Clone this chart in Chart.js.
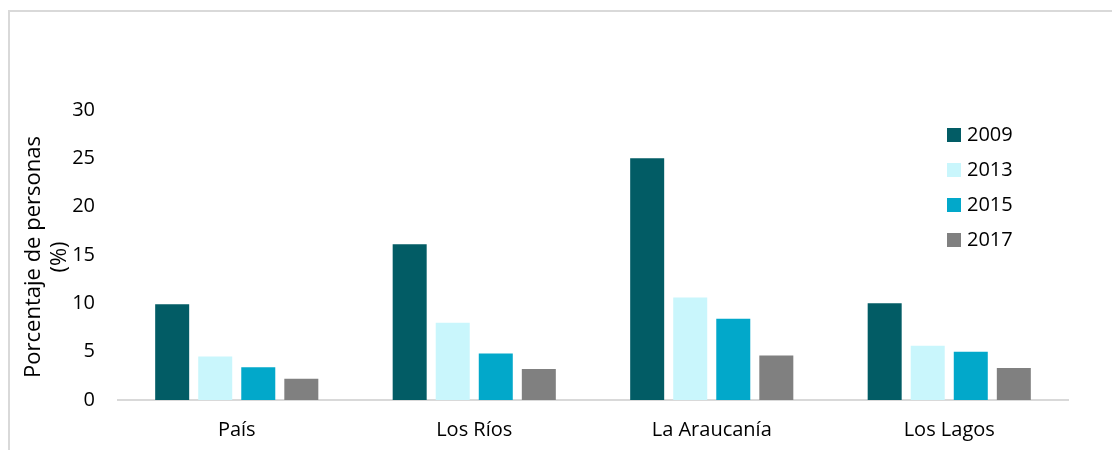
<!DOCTYPE html>
<html>
<head>
<meta charset="utf-8">
<script src="https://cdn.jsdelivr.net/npm/chart.js@4"></script>
<style>
  body { margin: 0; overflow: hidden; background: #fff; }
  #marco { position: absolute; left: 8px; top: 10px; width: 1200px; height: 600px; border: 2px solid #d9d9d9; }
  #grafico { position: absolute; left: 0; top: 0; }
</style>
</head>
<body>
<div id="marco"></div>
<canvas id="grafico" width="1112" height="450"></canvas>
<script>
// Datos del gráfico
const regiones = ['País', 'Los Ríos', 'La Araucanía', 'Los Lagos'];
const anios = ['2009', '2013', '2015', '2017'];
const valores2009 = [9.9, 16.1, 25.0, 10.0];
const valores2013 = [4.5, 8.0, 10.6, 5.6];
const valores2015 = [3.4, 4.8, 8.4, 5.0];
const valores2017 = [2.2, 3.2, 4.6, 3.3];
const colores = ['#025c65', '#c9f6fc', '#02a8ca', '#808080'];
const tituloY = ['Porcentaje de personas', '(%)'];

const fuente = "'Open Sans', sans-serif";

// Leyenda dibujada dentro del área del gráfico
const leyenda = {
  id: 'leyenda',
  afterDraw(chart) {
    const c = chart.ctx;
    c.save();
    c.font = '20px ' + fuente;
    c.textBaseline = 'middle';
    chart.data.datasets.forEach((ds, i) => {
      const y = 135 + i * 35;
      c.fillStyle = ds.backgroundColor;
      c.fillRect(947, y - 7, 14, 14);
      c.fillStyle = '#000';
      c.fillText(ds.label, 967, y);
    });
    c.restore();
  }
};

// Título del eje Y en dos líneas
const tituloEje = {
  id: 'tituloEje',
  afterDraw(chart) {
    const c = chart.ctx;
    c.save();
    c.font = '22px ' + fuente;
    c.fillStyle = '#000';
    c.textAlign = 'center';
    c.textBaseline = 'middle';
    c.translate(0, 257);
    c.rotate(-Math.PI / 2);
    c.fillText(tituloY[0], 0, 34);
    c.fillText(tituloY[1], 0, 60);
    c.restore();
  }
};

const series = [valores2009, valores2013, valores2015, valores2017];

const ctx = document.getElementById('grafico').getContext('2d');
const grafico = new Chart(ctx, {
  type: 'bar',
  data: {
    labels: regiones,
    datasets: anios.map((a, i) => ({
      label: a,
      data: series[i],
      backgroundColor: colores[i],
      categoryPercentage: 0.725,
      barPercentage: 0.79
    }))
  },
  options: {
    responsive: false,
    animation: false,
    layout: { padding: { top: 110, right: 44, left: 0, bottom: 0 } },
    plugins: {
      legend: { display: false },
      tooltip: { enabled: false }
    },
    scales: {
      x: {
        grid: { display: false, drawTicks: false },
        border: { color: '#d9d9d9', width: 2 },
        ticks: { color: '#000', font: { family: fuente, size: 20 }, padding: 18 },
        afterFit(scale) { scale.height = 50; }
      },
      y: {
        min: 0,
        max: 30,
        grid: { display: false, drawTicks: false },
        border: { display: false },
        ticks: { stepSize: 5, color: '#000', font: { family: fuente, size: 20 }, padding: 23 },
        afterFit(scale) { scale.width = 118; }
      }
    }
  },
  plugins: [leyenda, tituloEje]
});
</script>
</body>
</html>
